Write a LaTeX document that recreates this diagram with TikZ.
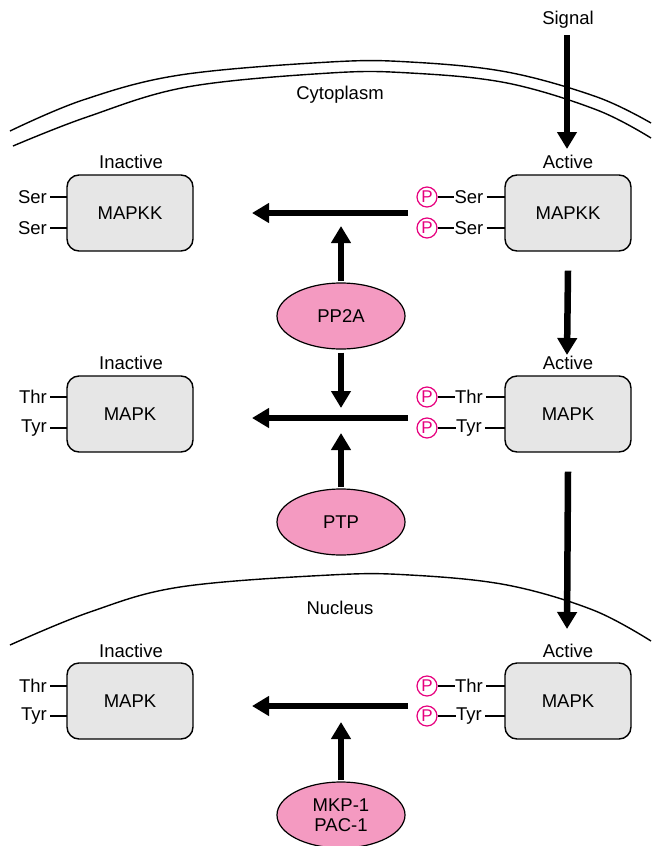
\documentclass[tikz,border=0pt]{standalone}
\usepackage{fontspec}
\setmainfont{Liberation Sans}
\usetikzlibrary{arrows.meta,shapes.geometric}
\definecolor{boxgray}{HTML}{E6E6E6}
\definecolor{pinkfill}{HTML}{F49AC1}
\definecolor{pmag}{HTML}{E6007E}
\begin{document}
\begin{tikzpicture}[x=1pt,y=-1pt,
  every node/.style={font=\fontsize{18.5}{21}\selectfont, inner sep=0pt},
  kbox/.style={draw, line width=1.4pt, rounded corners=12pt, fill=boxgray, minimum width=126pt, minimum height=76pt},
  enz/.style={draw, line width=1.2pt, ellipse, fill=pinkfill, minimum width=128pt, minimum height=66pt, align=center, font=\fontsize{18.5}{20}\selectfont},
  bigarrow/.style={line width=6.5pt, -{Triangle[length=17pt,width=19pt]}},
  tick/.style={line width=1.4pt},
  pcirc/.style={draw=pmag, circle, line width=1.2pt, minimum size=20pt, text=pmag, font=\fontsize{17}{17}\selectfont},
  memb/.style={line width=1.4pt}
]
\useasboundingbox (0,0) rectangle (651,846);
% membranes
\draw[memb] plot[smooth, tension=0.6] coordinates {(10,131) (83,100) (180,75) (330,62) (410,62) (507,72) (597,97) (651,123)};
\draw[memb] plot[smooth, tension=0.6] coordinates {(13,146) (87,117) (187,87) (330,73) (410,73) (507,83) (597,110) (651,138)};
\draw[memb] plot[smooth, tension=0.6] coordinates {(10,645) (90,612) (180,587) (330,575) (410,575) (507,585) (593,610) (651,641)};
\node (cyto) at (340,95) {Cytoplasm};
\node (nuc) at (340,608) {Nucleus};
\node (signal) at (568,20) {Signal};

% boxes
\node[kbox] (i1) at (130,213) {MAPKK};
\node[kbox] (a1) at (568,213) {MAPKK};
\node[kbox] (i2) at (130,414) {MAPK};
\node[kbox] (a2) at (568,414) {MAPK};
\node[kbox] (i3) at (130,701) {MAPK};
\node[kbox] (a3) at (568,701) {MAPK};

\node (li1) at (131,162) {Inactive};
\node (la1) at (568,162) {Active};
\node (li2) at (131,363) {Inactive};
\node (la2) at (568,363) {Active};
\node (li3) at (131,651) {Inactive};
\node (la3) at (568,651) {Active};

% left residues
\foreach \n/\t/\y in {s1/Ser/197, s2/Ser/228, t1/Thr/397, t2/Tyr/428, t3/Thr/686, t4/Tyr/716}{
  \node[anchor=east] (L\n) at (47,\y) {\t};
  \coordinate (Le\n) at (67,\y);
  \draw[tick] (L\n.east) ++(3,0) -- (Le\n);
}
% right residues
\foreach \n/\t/\y in {s1/Ser/197, s2/Ser/228, t1/Thr/397, t2/Tyr/428, t3/Thr/686, t4/Tyr/716}{
  \node (R\n) at (469,\y) {\t};
  \node[pcirc] (P\n) at (427,\y) {P};
  \coordinate (Re\n) at (505,\y);
  \draw[tick] (P\n.east) -- (R\n.west);
  \draw[tick] (R\n.east) ++(3,0) -- (Re\n);
}

% enzymes
\node[enz] (pp2a) at (341,316) {PP2A};
\node[enz] (ptp) at (341,522) {PTP};
\node[enz] (mkp) at (341,815) {MKP-1\\PAC-1};

% horizontal dephosphorylation arrows
\coordinate (h1s) at (408,213); \coordinate (h1e) at (252,213);
\coordinate (h2s) at (408,418); \coordinate (h2e) at (252,418);
\coordinate (h3s) at (408,706); \coordinate (h3e) at (252,706);
\draw[bigarrow] (h1s) -- (h1e);
\draw[bigarrow] (h2s) -- (h2e);
\draw[bigarrow] (h3s) -- (h3e);

% enzyme arrows
\coordinate (v1) at (341,226);
\coordinate (v2) at (341,408);
\coordinate (v3) at (341,433);
\coordinate (v4) at (341,722);
\draw[bigarrow] ([yshift=1pt]pp2a.north) -- (v1);
\draw[bigarrow] ([yshift=-3pt]pp2a.south) -- (v2);
\draw[bigarrow] ([yshift=1pt]ptp.north) -- (v3);
\draw[bigarrow] ([yshift=1pt]mkp.north) -- (v4);

% activation arrows
\coordinate (sigs) at (567,35);
\coordinate (sige) at (567,149);
\draw[bigarrow] (sigs) -- (sige);
\coordinate (k1e) at (567,355);
\draw[bigarrow] ([yshift=-19pt]a1.south) -- (k1e);
\coordinate (k2e) at (567,629);
\draw[bigarrow] ([yshift=-19pt]a2.south) -- (k2e);
\end{tikzpicture}
\end{document}
